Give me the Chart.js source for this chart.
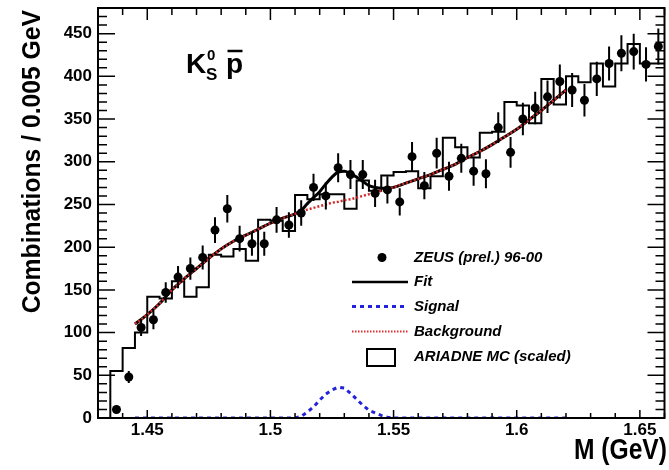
<!DOCTYPE html>
<html><head><meta charset="utf-8">
<script src="https://cdn.jsdelivr.net/npm/chart.js@4.4.1/dist/chart.umd.min.js"></script>
<style>html,body{margin:0;padding:0;background:#fff;}canvas{display:block;}</style>
</head><body>
<canvas id="c" width="669" height="470"></canvas>
<script>
// ---- data ----
const massCenters = [1.4375,1.4425,1.4475,1.4525,1.4575,1.4625,1.4675,1.4725,1.4775,1.4825,1.4875,1.4925,1.4975,1.5025,1.5075,1.5125,1.5175,1.5225,1.5275,1.5325,1.5375,1.5425,1.5475,1.5525,1.5575,1.5625,1.5675,1.5725,1.5775,1.5825,1.5875,1.5925,1.5975,1.6025,1.6075,1.6125,1.6175,1.6225,1.6275,1.6325,1.6375,1.6425,1.6475,1.6525,1.6575];
const counts = [10,48,106,115,147,165,175,188,220,245,210,204,204,232,226,240,270,260,293,285,285,263,267,253,306,272,310,283,304,289,286,340,311,350,363,376,394,384,372,397,415,427,429,414,435];
const countErrors = [3,7,10,11,12,13,13,14,15,16,15,14,14,15,15,15,16,16,17,17,17,16,16,16,17,16,18,17,17,17,17,18,18,19,19,19,20,20,19,20,20,21,21,20,21];

const mcEdges = [1.435,1.44,1.445,1.45,1.455,1.46,1.465,1.47,1.475,1.48,1.485,1.49,1.495,1.5,1.505,1.51,1.515,1.52,1.525,1.53,1.535,1.54,1.545,1.55,1.555,1.56,1.565,1.57,1.575,1.58,1.585,1.59,1.595,1.6,1.605,1.61,1.615,1.62,1.625,1.63,1.635,1.64,1.645,1.65,1.655,1.66];
const mcHeights = [5,55,82,100,142,140,160,142,153,191,189,198,184,232,231,219,261,256,262,262,245,278,266,284,288,289,269,283,328,317,305,334,335,370,366,345,397,367,400,393,415,388,415,438,415];

const curveMass = [1.445,1.45,1.455,1.46,1.465,1.47,1.475,1.48,1.485,1.49,1.495,1.5,1.505,1.51,1.5125,1.515,1.5175,1.52,1.5225,1.525,1.5275,1.53,1.5325,1.535,1.5375,1.54,1.5425,1.545,1.5475,1.55,1.555,1.56,1.565,1.57,1.575,1.58,1.585,1.59,1.595,1.6,1.605,1.61,1.615,1.62];
const fitValues = [110,121,134,150,163,175,187,198,207,214,221,228,234,239,243,251,258,265,274,282,288,289,286,282,277,272,270,269,269,270,275,280,285,291,297,305,312,320,329,338,349,360,372,384];
const signalValues = [0,0,0,0,0,0,0,0,0,0,0,0,0,0,2,7,13,21,28,33,36,35,29,22,15,9,6,3,1,0,0,0,0,0,0,0,0,0,0,0,0,0,0,0];
const backgroundValues = [110,121,134,150,163,175,187,198,207,214,221,228,234,239,241,244,246,248,250,252,253,255,256,258,260,262,264,266,268,270,275,280,285,291,297,305,312,320,329,338,349,360,372,384];

const xTickLabels = ['1.45','1.5','1.55','1.6','1.65'];
const yTickLabels = ['0','50','100','150','200','250','300','350','400','450'];
const legendLabels = ['ZEUS (prel.) 96-00','Fit','Signal','Background','ARIADNE MC (scaled)'];

// ---- build datasets ----
const FONT = '"Liberation Sans", Arial, Helvetica, sans-serif';
const pts = massCenters.map((m,i)=>({x:m,y:counts[i]}));
const hist = [{x:mcEdges[0],y:0}].concat(mcHeights.map((h,i)=>({x:mcEdges[i],y:h})));
hist.push({x:mcEdges[mcEdges.length-1], y:mcHeights[mcHeights.length-1]});
const fitPts = curveMass.map((m,i)=>({x:m,y:fitValues[i]}));
const sigPts = curveMass.map((m,i)=>({x:m,y:signalValues[i]}));
const bgPts = curveMass.map((m,i)=>({x:m,y:backgroundValues[i]}));

const RED = '#d42828', BLUE = '#2323dc';

const decor = {
  id:'decor',
  afterDatasetsDraw(chart){
    const ctx = chart.ctx, ys = chart.scales.y;
    const meta = chart.getDatasetMeta(0);
    ctx.save();
    ctx.strokeStyle = '#000'; ctx.lineWidth = 2;
    ctx.beginPath();
    meta.data.forEach((p,i)=>{
      ctx.moveTo(p.x, ys.getPixelForValue(counts[i]+countErrors[i]));
      ctx.lineTo(p.x, ys.getPixelForValue(counts[i]-countErrors[i]));
    });
    ctx.stroke();
    ctx.restore();
  },
  afterDraw(chart){
    const ctx = chart.ctx, a = chart.chartArea, xs = chart.scales.x, ys = chart.scales.y;
    ctx.save();
    ctx.strokeStyle = '#000'; ctx.lineWidth = 2;
    ctx.strokeRect(a.left, a.top, a.right-a.left, a.bottom-a.top);
    ctx.lineWidth = 1.5;
    ctx.beginPath();
    for (let k=143;k<=166;k++){
      const px = xs.getPixelForValue(k/100); const major = k%5===0;
      ctx.moveTo(px, a.bottom); ctx.lineTo(px, a.bottom-(major?8:5));
      ctx.moveTo(px, a.top); ctx.lineTo(px, a.top+(major?12:7));
    }
    for (let k=0;k<=48;k++){
      const py = ys.getPixelForValue(k*10); const major = k%5===0;
      ctx.moveTo(a.left, py); ctx.lineTo(a.left+(major?17:9), py);
      ctx.moveTo(a.right, py); ctx.lineTo(a.right-(major?17:9), py);
    }
    ctx.stroke();

    // axis titles
    ctx.fillStyle = '#000';
    ctx.save();
    ctx.translate(667, 459); ctx.scale(0.85,1);
    ctx.font = 'bold 29px '+FONT; ctx.textAlign='right'; ctx.textBaseline='alphabetic';
    ctx.fillText('M (GeV)', 0, 0);
    ctx.restore();
    ctx.save();
    ctx.translate(40, 10); ctx.rotate(-Math.PI/2); ctx.scale(0.95,1);
    ctx.font = 'bold 26px '+FONT; ctx.textAlign='right'; ctx.textBaseline='alphabetic';
    ctx.fillText('Combinations / 0.005 GeV', 0, 0);
    ctx.restore();

    // title K0S pbar
    ctx.textAlign='left'; ctx.textBaseline='alphabetic';
    ctx.font = 'bold 28px '+FONT; ctx.fillText('K', 186, 73);
    ctx.font = 'bold 15px '+FONT; ctx.fillText('0', 207, 60);
    ctx.font = 'bold 17px '+FONT; ctx.fillText('S', 206, 80);
    ctx.font = 'bold 28px '+FONT; ctx.fillText('p', 226, 73);
    ctx.lineWidth = 2.5; ctx.beginPath(); ctx.moveTo(227.5,51); ctx.lineTo(242.5,51); ctx.stroke();

    // legend
    const tx = 414, rows = [257.5, 282, 306.5, 331.5, 356.5];
    ctx.font = 'italic bold 15px '+FONT; ctx.textBaseline='middle';
    legendLabels.forEach((t,i)=>ctx.fillText(t, tx, rows[i]));
    ctx.beginPath(); ctx.arc(382, rows[0], 4.5, 0, Math.PI*2); ctx.fill();
    ctx.lineWidth = 2.5; ctx.beginPath(); ctx.moveTo(352, rows[1]); ctx.lineTo(408, rows[1]); ctx.stroke();
    ctx.strokeStyle = BLUE; ctx.lineWidth = 3; ctx.setLineDash([4,4]);
    ctx.beginPath(); ctx.moveTo(352, rows[2]); ctx.lineTo(408, rows[2]); ctx.stroke();
    ctx.strokeStyle = '#e03030'; ctx.lineWidth = 2; ctx.setLineDash([1.5,1.5]);
    ctx.beginPath(); ctx.moveTo(352, rows[3]); ctx.lineTo(408, rows[3]); ctx.stroke();
    ctx.setLineDash([]); ctx.strokeStyle = '#000'; ctx.lineWidth = 2;
    ctx.strokeRect(367, 349, 28, 17);
    ctx.restore();
  }
};

new Chart(document.getElementById('c'), {
  type:'line',
  data:{ datasets:[
    {label:'ZEUS', data:pts, showLine:false, pointRadius:4.5, pointBackgroundColor:'#000', pointBorderColor:'#000', pointBorderWidth:0, order:0},
    {label:'Background', data:bgPts, borderColor:RED, borderWidth:2.5, borderDash:[2,2], pointRadius:0, fill:false, tension:0, order:1},
    {label:'Signal', data:sigPts, borderColor:BLUE, borderWidth:3, borderDash:[4,4], pointRadius:0, fill:false, tension:0, order:2},
    {label:'Fit', data:fitPts, borderColor:'#000', borderWidth:3, pointRadius:0, fill:false, cubicInterpolationMode:'monotone', order:3},
    {label:'ARIADNE', data:hist, borderColor:'#000', borderWidth:2, pointRadius:0, fill:false, stepped:'after', order:4}
  ]},
  options:{
    responsive:false, animation:false, devicePixelRatio:1,
    layout:{padding:{left:0,right:4,top:8,bottom:0}},
    plugins:{legend:{display:false}, tooltip:{enabled:false}},
    scales:{
      x:{type:'linear', min:1.43, max:1.66,
        grid:{display:false, drawTicks:false}, border:{display:false},
        ticks:{stepSize:0.01, autoSkip:false, maxRotation:0, padding:2, color:'#000',
          font:{family:FONT, size:17, weight:'bold'},
          callback:(v)=>{ const r=Math.round(v*100); const s=String(r/100); return xTickLabels.includes(s)?s:''; }},
        afterFit:(s)=>{ s.height=52; s.paddingLeft=0; s.paddingRight=0; }
      },
      y:{type:'linear', min:0, max:480,
        grid:{display:false, drawTicks:false}, border:{display:false},
        ticks:{stepSize:50, autoSkip:false, padding:6, color:'#000',
          font:{family:FONT, size:17, weight:'bold'},
          callback:(v)=>{ const s=String(Math.round(v)); return yTickLabels.includes(s)?s:''; }},
        afterFit:(s)=>{ s.width=98; s.paddingTop=0; s.paddingBottom=0; }
      }
    }
  },
  plugins:[decor]
});
</script>
</body></html>
